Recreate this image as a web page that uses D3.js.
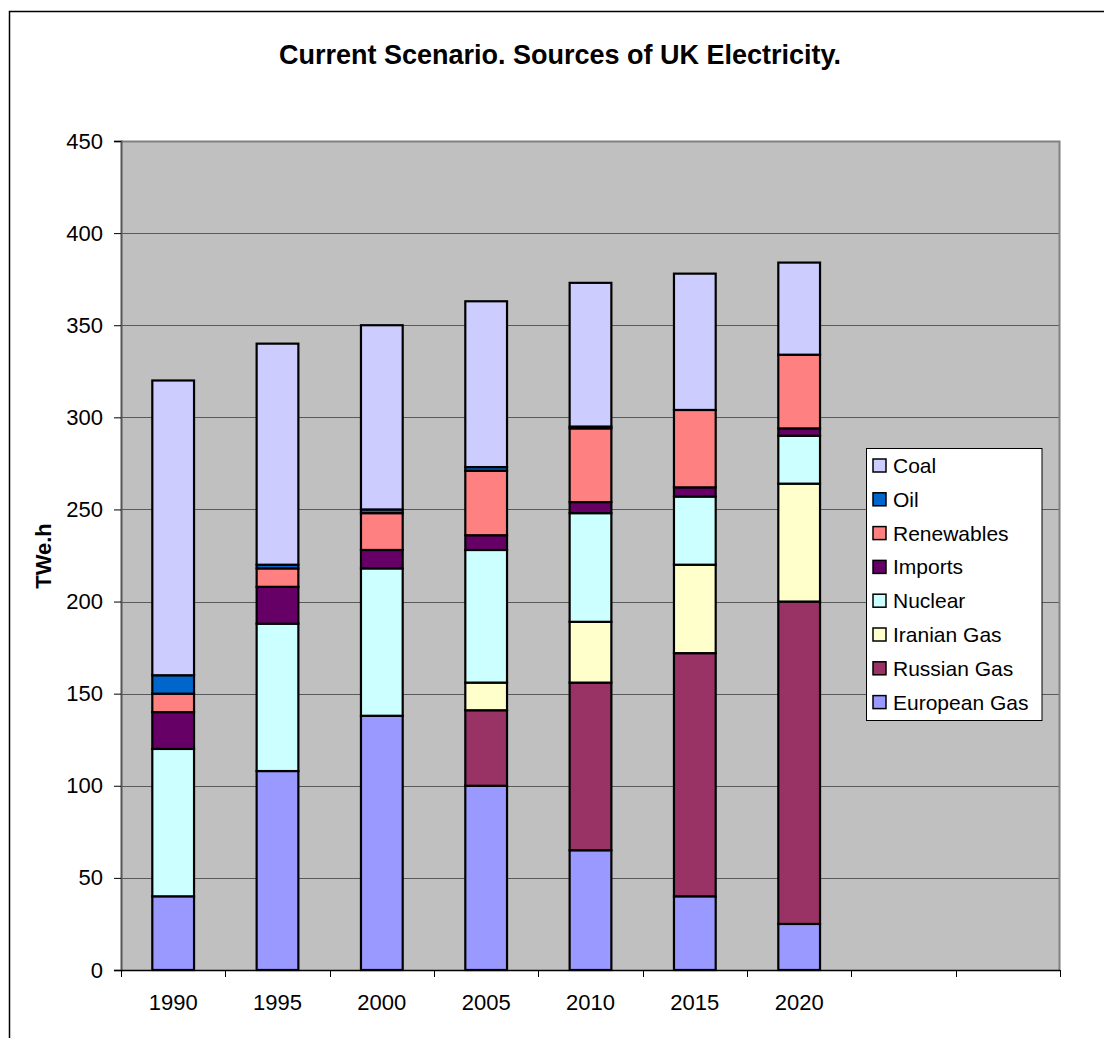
<!DOCTYPE html>
<html>
<head>
<meta charset="utf-8">
<script src="https://cdn.jsdelivr.net/npm/d3@7/dist/d3.min.js"></script>
<style>
  html, body { margin: 0; padding: 0; background: #fff; }
  svg { display: block; font-family: Arial, "Liberation Sans", sans-serif; }
</style>
</head>
<body>
<svg id="chart" width="1104" height="1038"></svg>
<script>
// Category axis: seven scenario years plus two empty slots
const categories = ["1990", "1995", "2000", "2005", "2010", "2015", "2020", "", " "];
const years = ["1990", "1995", "2000", "2005", "2010", "2015", "2020"];

// Series values in TWe.h, stacked bottom to top
const europeanGas = [40, 108, 138, 100, 65, 40, 25];
const russianGas  = [0, 0, 0, 41, 91, 132, 175];
const iranianGas  = [0, 0, 0, 15, 33, 48, 64];
const nuclear     = [80, 80, 80, 72, 59, 37, 26];
const imports     = [20, 20, 10, 8, 6, 5, 4];
const renewables  = [10, 10, 20, 35, 40, 42, 40];
const oil         = [10, 2, 2, 2, 1, 0, 0];
const coal        = [160, 120, 100, 90, 78, 74, 50];

const yTicks = [0, 50, 100, 150, 200, 250, 300, 350, 400, 450];

const seriesNames = ["European Gas", "Russian Gas", "Iranian Gas", "Nuclear", "Imports", "Renewables", "Oil", "Coal"];
const seriesValues = [europeanGas, russianGas, iranianGas, nuclear, imports, renewables, oil, coal];
const seriesColors = ["#9999FF", "#993366", "#FFFFCC", "#CCFFFF", "#660066", "#FF8080", "#0066CC", "#CCCCFF"];

const rows = years.map((yr, i) => {
  const r = { year: yr };
  seriesNames.forEach((n, k) => { r[n] = seriesValues[k][i]; });
  return r;
});

const svg = d3.select("#chart");
const FONT = "Arial, 'Liberation Sans', sans-serif";

// Outer chart border
svg.append("rect")
  .attr("x", 9.5).attr("y", 11.5).attr("width", 1200).attr("height", 1200)
  .attr("fill", "#fff").attr("stroke", "#000").attr("stroke-width", 1.5);

const plot = { left: 121, top: 141, right: 1060, bottom: 970 };

const x = d3.scaleBand().domain(categories).range([plot.left, plot.right]).paddingInner(0).paddingOuter(0);
const y = d3.scaleLinear().domain([0, 450]).range([plot.bottom, plot.top]);
const barW = x.bandwidth() * 0.4;

// Plot background
svg.append("rect")
  .attr("x", plot.left).attr("y", plot.top)
  .attr("width", plot.right - plot.left).attr("height", plot.bottom - plot.top)
  .attr("fill", "#C0C0C0");

// Gridlines
svg.append("g").selectAll("line").data(yTicks.filter(t => t > 0 && t < 450)).join("line")
  .attr("x1", plot.left).attr("x2", plot.right)
  .attr("y1", d => Math.round(y(d)) + 0.5).attr("y2", d => Math.round(y(d)) + 0.5)
  .attr("stroke", "#5a5a5a").attr("stroke-width", 1);

// Plot frame (top and right)
svg.append("path")
  .attr("d", `M${plot.left},${plot.top + 0.5}H${plot.right - 0.5}V${plot.bottom}`)
  .attr("fill", "none").attr("stroke", "#808080").attr("stroke-width", 2);

// Stacked bars
const stack = d3.stack().keys(seriesNames);
const layers = stack(rows);

svg.append("g").selectAll("g").data(layers).join("g")
  .attr("fill", (d, i) => seriesColors[i])
  .selectAll("rect").data(d => d.filter(s => s[1] - s[0] > 0)).join("rect")
  .attr("x", d => x(d.data.year) + (x.bandwidth() - barW) / 2)
  .attr("y", d => y(d[1]))
  .attr("width", barW)
  .attr("height", d => y(d[0]) - y(d[1]))
  .attr("stroke", "#000").attr("stroke-width", 2.2);

// Y axis
const yAxis = d3.axisLeft(y).tickValues(yTicks).tickSize(7).tickPadding(11).tickFormat(d3.format("d"));
const gy = svg.append("g").attr("transform", `translate(${plot.left},0)`).call(yAxis);
gy.attr("font-size", null).attr("font-family", null);
gy.select(".domain").attr("stroke", "#555").attr("stroke-width", 2);
gy.selectAll(".tick line").attr("stroke", "#000");
gy.selectAll("text").style("font-size", "22px").style("font-family", FONT).attr("fill", "#000");

// X axis with ticks on slot boundaries
const gx = svg.append("g").attr("transform", `translate(0,${plot.bottom})`);
gx.append("line").attr("x1", plot.left).attr("x2", plot.right).attr("y1", 0.5).attr("y2", 0.5)
  .attr("stroke", "#000").attr("stroke-width", 1.5);
const boundaries = categories.map(c => x(c)).concat([plot.right]);
gx.selectAll("line.tk").data(boundaries).join("line").attr("class", "tk")
  .attr("x1", d => Math.round(d) + 0.5).attr("x2", d => Math.round(d) + 0.5)
  .attr("y1", 0).attr("y2", 7).attr("stroke", "#000");
gx.selectAll("text").data(years).join("text")
  .attr("x", d => x(d) + x.bandwidth() / 2).attr("y", 40)
  .attr("text-anchor", "middle").style("font-size", "22px").style("font-family", FONT).attr("fill", "#000")
  .text(d => d);

// Title
svg.append("text")
  .attr("x", 560).attr("y", 64).attr("text-anchor", "middle")
  .style("font-size", "27px").style("font-family", FONT).attr("font-weight", "bold")
  .text("Current Scenario. Sources of UK Electricity.");

// Y axis title
svg.append("text")
  .attr("transform", "translate(51,556) rotate(-90)")
  .attr("text-anchor", "middle").style("font-size", "22px").style("font-family", FONT).attr("font-weight", "bold")
  .text("TWe.h");

// Legend (top series first)
const legend = svg.append("g").attr("transform", "translate(866,448)");
legend.append("rect").attr("x", 0.5).attr("y", 0.5).attr("width", 175.5).attr("height", 272)
  .attr("fill", "#fff").attr("stroke", "#000").attr("stroke-width", 1);
const legendOrder = seriesNames.map((n, i) => ({ name: n, color: seriesColors[i] })).reverse();
const li = legend.selectAll("g.item").data(legendOrder).join("g").attr("class", "item")
  .attr("transform", (d, i) => `translate(7,${18 + i * 33.8})`);
li.append("rect").attr("x", 0).attr("y", -7).attr("width", 13).attr("height", 13)
  .attr("fill", d => d.color).attr("stroke", "#000").attr("stroke-width", 1.5);
li.append("text").attr("x", 20).attr("y", 7).style("font-size", "21px").style("font-family", FONT).attr("fill", "#000")
  .text(d => d.name);
</script>
</body>
</html>
